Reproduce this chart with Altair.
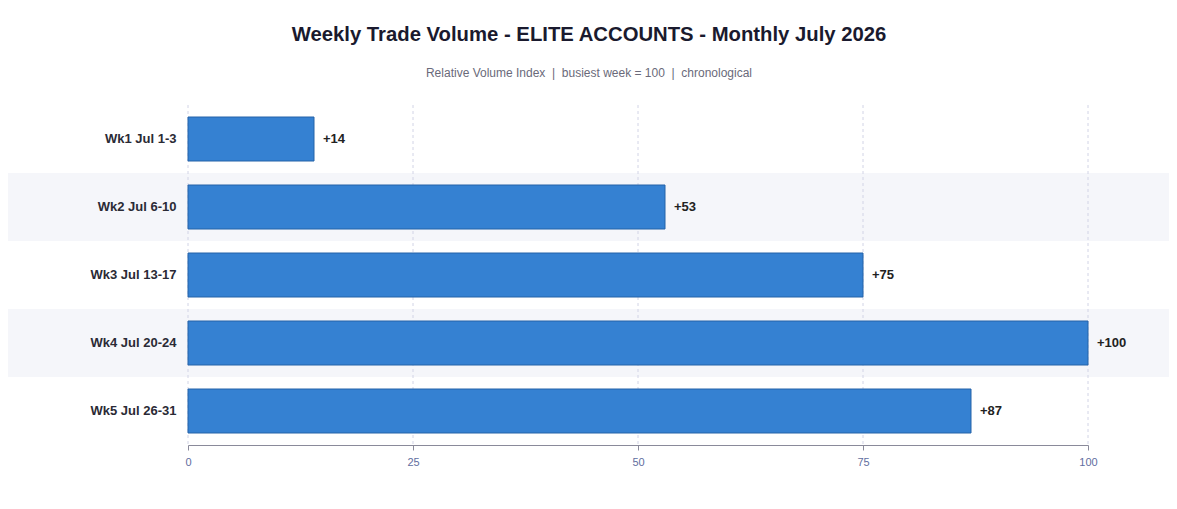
import altair as alt
import pandas as pd

weeks = ["Wk1 Jul 1-3", "Wk2 Jul 6-10", "Wk3 Jul 13-17", "Wk4 Jul 20-24", "Wk5 Jul 26-31"]
values = [14, 53, 75, 100, 87]
labels = ["+14", "+53", "+75", "+100", "+87"]
shaded = [False, True, False, True, False]
grid_ticks = [0, 25, 50, 75, 100]

df = pd.DataFrame({"week": weeks, "value": values, "label": labels, "shaded": shaded})
grid_df = pd.DataFrame({"tick": grid_ticks})

FONT = "Liberation Sans"

y_scale = alt.Scale(paddingInner=0, paddingOuter=0)
y_axis = alt.Axis(domain=False, ticks=False, grid=False, labelFontWeight="bold",
                  labelFontSize=13, labelColor="#2a2a35", labelPadding=12,
                  labelFont=FONT)
y_enc = alt.Y("week:N", sort=weeks, title=None, scale=y_scale, axis=y_axis)
x_scale = alt.Scale(domain=[0, 100], nice=False)
x_axis = alt.Axis(values=grid_ticks, grid=False, domainColor="#8a8a9a",
                  tickColor="#8a8a9a", labelColor="#5f6ea0", labelFontSize=11,
                  labelFont=FONT, labelPadding=6, labelFlush=False)

shade = alt.Chart(df).transform_filter("datum.shaded").mark_rect(color="#f5f6fa").encode(
    y=y_enc,
    x=alt.value(-190),
    x2=alt.value(1000),
)

grid = alt.Chart(grid_df).mark_rule(color="#d2d4e6", strokeDash=[3, 3], strokeWidth=1).encode(
    x=alt.X("tick:Q", scale=x_scale, title=None, axis=x_axis),
)

bars = alt.Chart(df).mark_bar(size=44, color="#3581d2", stroke="#2563a8", strokeWidth=1).encode(
    y=y_enc,
    x=alt.X("value:Q", scale=x_scale, title=None, axis=x_axis),
)

text = alt.Chart(df).mark_text(align="left", dx=9, fontWeight="bold", fontSize=13,
                                color="#222222", font=FONT).encode(
    y=y_enc,
    x=alt.X("value:Q", scale=x_scale, title=None, axis=x_axis),
    text="label:N",
)

NB = "\u00a0"
subtitle = f"Relative Volume Index{NB}{NB}|{NB}{NB}busiest week = 100{NB}{NB}|{NB}{NB}chronological"

chart = alt.layer(shade, grid, bars, text).properties(
    width=900,
    height=340,
    background="white",
    autosize=alt.AutoSizeParams(type="none"),
    padding={"left": 180, "top": 97, "right": 81, "bottom": 56},
    title=alt.TitleParams(
        text="Weekly Trade Volume - ELITE ACCOUNTS - Monthly July 2026",
        subtitle=subtitle,
        anchor="middle", frame="group", dx=-49, font=FONT, fontSize=20.3, fontWeight="bold",
        color="#1a1a2e", subtitleFont=FONT, subtitleFontSize=12, subtitleColor="#6a6a7a",
        subtitlePadding=22, offset=26,
    ),
).configure_view(strokeWidth=0, stroke=None)

chart.save("out.html", embed_options={"renderer": "svg", "actions": False})
